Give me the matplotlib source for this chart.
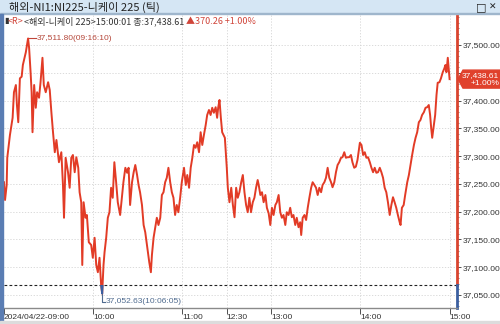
import numpy as np
import matplotlib.pyplot as plt
from matplotlib import font_manager
from matplotlib.patches import Rectangle, Polygon

plt.rcParams['font.family'] = ['Noto Sans CJK KR', 'DejaVu Sans']

# trading minutes since 09:00 (lunch 11:30-12:30 removed) and price
minutes = [0.0, 0.7, 1.8, 2.2, 4.0, 5.8, 6.7, 8.0, 8.7, 9.6, 10.7, 11.9, 12.7, 14.7,
           16.2, 16.9, 17.9, 18.6, 19.2, 20.3, 21.4, 22.3, 23.6, 24.6, 25.9, 26.8,
           28.1, 29.7, 30.8, 31.9, 33.0, 34.2, 35.3, 37.0, 38.6, 39.7, 40.4, 41.5,
           43.1, 44.2, 45.3, 46.4, 47.6, 48.7, 50.0, 50.9, 52.0, 52.7, 53.6, 54.9,
           55.8, 57.1, 58.7, 59.8, 61.0, 62.1, 63.2, 64.3, 65.4, 66.1, 67.0, 67.7,
           68.8, 69.9, 71.0, 72.1, 73.2, 74.3, 75.5, 76.6, 78.2, 79.5, 80.4, 81.7,
           82.9, 83.9, 84.9, 86.2, 87.3, 88.4, 89.6, 90.6, 91.6, 92.9, 94.0, 95.1,
           96.0, 96.9, 97.8, 98.9, 99.6, 100.7, 101.8, 102.9, 104.0, 105.2, 106.3,
           107.4, 108.5, 109.6, 110.7, 111.9, 113.0, 114.1, 115.2, 116.3, 117.4,
           118.6, 119.7, 121.2, 122.4, 123.4, 124.6, 125.7, 126.8, 127.9, 129.0,
           130.1, 131.3, 132.4, 133.5, 134.6, 135.8, 136.8, 138.0, 139.1, 140.2,
           141.3, 142.5, 143.5, 144.2, 145.1, 146.0, 146.9, 147.8, 148.7, 150.0,
           150.7, 151.8, 153.0, 154.1, 155.2, 156.3, 157.4, 158.5, 159.7, 160.8,
           161.9, 163.0, 164.1, 165.2, 166.3, 167.5, 168.6, 169.7, 170.8, 171.5,
           172.6, 173.7, 174.8, 176.0, 177.0, 178.2, 179.3, 180.4, 181.5, 182.7,
           183.7, 184.9, 186.0, 187.1, 188.2, 189.4, 190.4, 191.6, 192.7, 193.8,
           194.9, 196.1, 197.1, 198.3, 199.4, 200.1, 201.1, 202.3, 203.4, 204.5,
           205.6, 206.8, 207.8, 209.0, 210.1, 211.2, 212.3, 213.5, 214.5, 215.7,
           216.8, 217.9, 219.0, 220.2, 221.2, 222.4, 223.5, 224.6, 225.7, 226.9,
           227.9, 229.1, 230.2, 231.3, 232.4, 233.6, 234.6, 235.8, 236.9, 238.0,
           239.6, 240.7, 241.8, 242.9, 244.0, 245.1, 246.3, 247.4, 248.5, 249.6,
           250.7, 251.8, 253.0, 254.1, 255.2, 256.3, 257.4, 258.5, 259.7, 260.8,
           261.9, 263.0, 264.1, 265.2, 266.4, 267.0, 267.9, 269.1, 270.1, 271.5,
           272.6, 273.7, 274.8, 276.0, 277.1, 278.2, 279.3, 280.4, 281.5, 282.7,
           283.8, 284.9, 286.0, 286.9, 287.6, 288.3, 289.2, 290.3, 291.2, 292.0,
           293.2, 294.2, 295.4, 296.5, 297.2, 297.9, 298.8, 300.0]
prices = [37253, 37221, 37248, 37297, 37338, 37369, 37415, 37428, 37392, 37361, 37440,
          37443, 37464, 37487, 37511.8, 37495, 37451, 37415, 37343, 37428, 37387,
          37415, 37405, 37433, 37477, 37428, 37415, 37433, 37419, 37379, 37343,
          37307, 37329, 37289, 37307, 37248, 37189, 37297, 37271, 37243, 37297,
          37302, 37271, 37298, 37279, 37235, 37217, 37104, 37217, 37189, 37194,
          37145, 37140, 37117, 37153, 37104, 37091, 37117, 37068, 37052.63, 37104,
          37127, 37153, 37189, 37199, 37243, 37225, 37289, 37253, 37217, 37194,
          37230, 37253, 37279, 37270, 37279, 37212, 37253, 37271, 37284, 37266,
          37248, 37235, 37212, 37176, 37163, 37145, 37127, 37109, 37091, 37122,
          37153, 37171, 37189, 37176, 37189, 37230, 37235, 37253, 37261, 37279,
          37253, 37235, 37225, 37194, 37212, 37199, 37225, 37253, 37279, 37248,
          37266, 37243, 37279, 37297, 37320, 37315, 37325, 37307, 37343, 37320,
          37338, 37356, 37374, 37383, 37374, 37387, 37378, 37388, 37369, 37387,
          37401, 37369, 37343, 37338, 37333, 37279, 37243, 37217, 37243, 37212,
          37190, 37243, 37225, 37235, 37253, 37266, 37235, 37212, 37199, 37225,
          37199, 37217, 37225, 37243, 37257, 37248, 37230, 37235, 37217, 37230,
          37207, 37197, 37176, 37207, 37194, 37212, 37217, 37230, 37199, 37189,
          37194, 37176, 37199, 37194, 37207, 37190, 37194, 37176, 37189, 37172,
          37181, 37158, 37189, 37194, 37185, 37207, 37225, 37243, 37253, 37248,
          37243, 37230, 37243, 37235, 37248, 37253, 37261, 37279, 37261, 37253,
          37244, 37253, 37271, 37284, 37289, 37297, 37298, 37307, 37297, 37298,
          37298, 37302, 37289, 37279, 37281, 37293, 37324, 37320, 37302, 37307,
          37297, 37298, 37289, 37279, 37271, 37279, 37270, 37271, 37279, 37271,
          37261, 37243, 37235, 37217, 37194, 37212, 37226, 37217, 37207, 37194,
          37181, 37176, 37207, 37212, 37230, 37253, 37266, 37284, 37302, 37320,
          37333, 37343, 37361, 37365, 37374, 37379, 37387, 37388, 37392, 37374,
          37351, 37333, 37351, 37374, 37410, 37432, 37433, 37440, 37451, 37458,
          37464, 37451, 37477, 37438.61]

prev_close = 37068.35
last_price = 37438.61
change = 370.26
change_pct = 1.00
high_price, high_time, high_min = 37511.80, "09:16:10", 16.2
low_price, low_time, low_min = 37052.63, "10:06:05", 66.1

tick_minutes = [0, 60, 120, 150, 180, 240, 300]
tick_labels = ["2024/04/22-09:00", "10:00", "11:00", "12:30", "13:00", "14:00", "15:00"]
y_levels = np.arange(37050, 37501, 50)

# narrow font for numbers if we have it
names = {f.name for f in font_manager.fontManager.ttflist}
if 'Liberation Sans Narrow' in names:
    num_font, num_size = ['Liberation Sans Narrow', 'DejaVu Sans'], 7
else:
    num_font, num_size = ['Liberation Sans', 'DejaVu Sans'], 6

W, H = 500, 324
fig = plt.figure(figsize=(W / 100, H / 100), dpi=100)


def fx(px):
    return px / W


def fy(py):
    return 1 - py / H


line_red = '#e23b26'
line_blue = '#3b5fa0'

ax = fig.add_axes([fx(4), fy(308), fx(457) - fx(4), fy(14) - fy(308)])
x_max = 305
y_lo, y_hi = 37026.6, 37555.8
ax.set_xlim(0, x_max)
ax.set_ylim(y_lo, y_hi)

# grid
for lvl in y_levels:
    ax.axhline(lvl, color='#d4d4d4', lw=0.6, ls=(0, (1.5, 2)), zorder=0)
for t in tick_minutes[1:]:
    ax.axvline(t, color='#d4d4d4', lw=0.6, ls=(0, (1.5, 2)), zorder=0)

# previous close
ax.axhline(prev_close, color='#222222', lw=0.8, ls=(0, (2.5, 2)), zorder=1)

# price line, blue where below previous close
ax.plot(minutes, prices, color=line_red, lw=1.4, zorder=3)
low_part, = ax.plot(minutes, prices, color=line_blue, lw=1.4, zorder=4)
clip = Rectangle((0, y_lo), x_max, prev_close - y_lo, transform=ax.transData)
low_part.set_clip_path(clip)

# high / low annotations
ax.plot([high_min, high_min + 5.5], [high_price, high_price], color='#c0463a', lw=0.8)
ax.text(high_min + 6, high_price, f"{high_price:,.2f}({high_time})", color='#b5473a',
        fontsize=num_size, va='center', ha='left', family=num_font)
ax.plot([low_min, low_min, low_min + 2], [low_price, 37038, 37038], color='#4f6b8f',
        lw=0.8, clip_on=False)
ax.text(low_min + 2.3, 37038, f"{low_price:,.2f}({low_time})", color='#4f6b8f',
        fontsize=num_size, va='center', ha='left', family=num_font)

# spines
for s in ['top', 'left', 'right']:
    ax.spines[s].set_visible(False)
ax.spines['bottom'].set_color('#8a8a8a')
ax.spines['bottom'].set_linewidth(1.0)
frac = (prev_close - y_lo) / (y_hi - y_lo)
ax.axvline(x_max, ymin=frac, ymax=1, color='#d9442f', lw=2, clip_on=False)
ax.axvline(x_max, ymin=0, ymax=frac, color=line_blue, lw=2, clip_on=False)

# y axis on the right
ax.yaxis.tick_right()
ax.set_yticks(y_levels)
ax.set_yticklabels([f"{v:,.2f}" for v in y_levels], family=num_font)
ax.set_yticks(np.arange(37030, 37551, 10), minor=True)
ax.tick_params(axis='y', which='major', labelsize=num_size, colors='#333333', length=3,
               width=0.6, pad=1)
ax.tick_params(axis='y', which='minor', length=1.5, width=0.5, colors='#555555')

# x axis
ax.set_xticks(tick_minutes)
ax.set_xticklabels(tick_labels, ha='left', family=num_font)
ax.tick_params(axis='x', labelsize=num_size, colors='#333333', length=4, width=0.6,
               pad=0.5)

# window frame bits
fig.patches.append(Rectangle((0, fy(13)), 1, fy(0) - fy(13), transform=fig.transFigure,
                             color='#d5e6f4', zorder=0))
fig.patches.append(Rectangle((0, fy(14)), 1, fy(13) - fy(14), transform=fig.transFigure,
                             color='#9fb6cc', zorder=0))
fig.patches.append(Rectangle((0, fy(321)), fx(3), fy(14) - fy(321),
                             transform=fig.transFigure, color='#5a7db3', zorder=0))
fig.patches.append(Rectangle((0, 0), 1, fy(321), transform=fig.transFigure,
                             color='#dcdcdc', zorder=0))

fig.text(fx(9), fy(7), "해외-NI1:NI225-니케이 225 (틱)", fontsize=8, color='#222222',
         va='center', ha='left')
fig.text(fx(481), fy(7), "□", fontsize=8, color='#222222', va='center', ha='center',
         family=['DejaVu Sans'])
fig.text(fx(493), fy(7), "✕", fontsize=6.5, color='#222222', va='center', ha='center',
         family=['DejaVu Sans'])

# header line, pieces chained one after another
hy = fy(21)
fig.text(fx(4), hy, "▮", fontsize=6, color='#333333', va='center', ha='left',
         family=['DejaVu Sans'])
t1 = fig.text(fx(8), hy, "<R>", fontsize=6.5, color='#d0453a', va='center', ha='left')
t2 = fig.text(fx(24), hy, f"<해외-니케이 225>15:00:01 종:{last_price:,.2f}", fontsize=6.5,
              color='#333333', va='center', ha='left')
fig.text(fx(186), hy, f"▲{change:.2f} +{change_pct:.2f}%", fontsize=6.5,
         color='#d0453a', va='center', ha='left')

# current price tag
ty = 45 + (37500 - last_price) / 1.8
fig.patches.append(Polygon([(fx(458), fy(ty)), (fx(463), fy(ty - 9)), (fx(500), fy(ty - 9)),
                            (fx(500), fy(ty + 9)), (fx(463), fy(ty + 9))],
                           closed=True, transform=fig.transFigure, color='#e0412c',
                           zorder=5))
fig.text(fx(499), fy(ty - 4), f"{last_price:,.2f}", fontsize=num_size, color='white',
         va='center', ha='right', zorder=6, family=num_font)
fig.text(fx(499), fy(ty + 4.5), f"+{change_pct:.2f}%", fontsize=num_size, color='white',
         va='center', ha='right', zorder=6, family=num_font)

fig.savefig('out.png', dpi=100)
